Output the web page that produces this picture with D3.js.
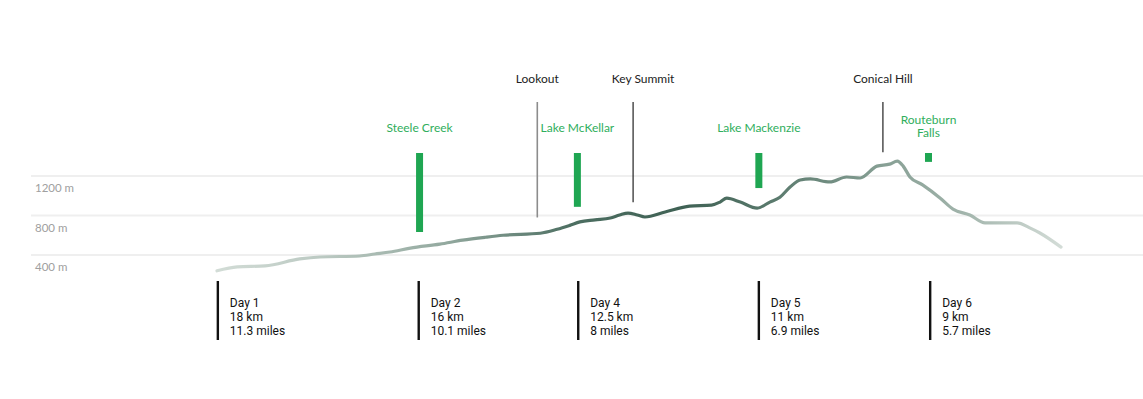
<!DOCTYPE html>
<html>
<head>
<meta charset="utf-8">
<script src="https://cdn.jsdelivr.net/npm/d3@7"></script>
<style>
  body { margin: 0; background: #fff; }
  svg { display: block; }
</style>
</head>
<body>
<div class="profile"></div>
<script>
// elevation profile, x = % along the track, y = metres
var routePct = [0, 2.4, 5.7, 9.8, 12.2, 16.9, 18.7, 20.5, 22.9, 26.4, 29.1, 31.8, 33.9, 38.3, 40.3, 41.8, 43.0, 44.8, 46.6, 47.7, 48.7, 49.8, 50.7, 53.1, 56.0, 58.6, 59.6, 60.4, 62.0, 64.0, 65.5, 66.7, 67.9, 69.1, 70.3, 72.6, 74.6, 76.2, 78.2, 79.7, 80.6, 81.3, 82.1, 83.6, 85.7, 87.2, 89.2, 91.0, 94.8, 96.3, 97.5, 100];
var elevation = [240, 280, 290, 360, 380, 390, 410, 430, 470, 510, 550, 580, 600, 620, 660, 700, 735, 755, 775, 805, 825, 805, 785, 835, 895, 905, 936, 975, 936, 875, 936, 985, 1088, 1160, 1170, 1140, 1190, 1180, 1300, 1320, 1350, 1300, 1190, 1110, 975, 865, 805, 725, 725, 675, 623, 480];

var gridValues = [400, 800, 1200];

var peakNames = ["Lookout", "Key Summit", "Conical Hill"];
var peakPct = [37.95, 49.3, 78.9];
var peakElev = [780, 935, 1440];

var waterNames = [["Steele Creek"], ["Lake McKellar"], ["Lake Mackenzie"], ["Routeburn", "Falls"]];
var waterPct = [24.0, 42.7, 64.2, 84.3];
var waterValues = [800, 545, 355, 90];

var dayLabels = ["Day 1", "Day 2", "Day 4", "Day 5", "Day 6"];
var dayKm = ["18 km", "16 km", "12.5 km", "11 km", "9 km"];
var dayMiles = ["11.3 miles", "10.1 miles", "8 miles", "6.9 miles", "5.7 miles"];
var dayPct = [0.1, 23.9, 42.8, 64.2, 84.5];

var W = 1143, H = 399;
var green = "#2fae5c";

var svg = d3.select(".profile").append("svg")
  .attr("width", W).attr("height", H);

var x = d3.scaleLinear().domain([0, 100]).range([217, 1061]);
var y = d3.scaleLinear().domain([400, 1200]).range([255, 176]);

// grid
var grid = svg.append("g");
grid.selectAll("line").data(gridValues).enter().append("line")
  .attr("x1", 31).attr("x2", W)
  .attr("y1", function(d) { return y(d); })
  .attr("y2", function(d) { return y(d); })
  .attr("stroke", "#efefef").attr("stroke-width", 2);
grid.selectAll("text").data(gridValues).enter().append("text")
  .attr("x", 35).attr("y", function(d) { return y(d) + 16; })
  .attr("font-family", "Lato").attr("font-size", 11.5)
  .attr("fill", "#a0a0a0")
  .text(function(d) { return d + " m"; });

// gradient for the trail line
var grad = svg.append("defs").append("linearGradient")
  .attr("id", "trail").attr("gradientUnits", "userSpaceOnUse")
  .attr("x1", x(0)).attr("x2", x(100)).attr("y1", 0).attr("y2", 0);
var stops = [[0, "#d2dcd6"], [0.12, "#bccac3"], [0.27, "#93a99f"], [0.42, "#4d6f62"], [0.55, "#3f6154"], [0.66, "#5a7a6d"], [0.78, "#849d92"], [0.88, "#a0b3aa"], [1, "#d3dcd7"]];
grad.selectAll("stop").data(stops).enter().append("stop")
  .attr("offset", function(d) { return d[0]; })
  .attr("stop-color", function(d) { return d[1]; });

var line = d3.line()
  .x(function(d, i) { return x(routePct[i]); })
  .y(function(d) { return y(d); })
  .curve(d3.curveMonotoneX);

svg.append("path")
  .datum(elevation)
  .attr("d", line)
  .attr("fill", "none")
  .attr("stroke", "url(#trail)")
  .attr("stroke-width", 3.2)
  .attr("stroke-linecap", "round")
  .attr("stroke-linejoin", "round");

// peaks
var peakDx = { "Key Summit": 10 };
var peaks = svg.append("g").selectAll("g").data(peakNames).enter().append("g");
peaks.append("line")
  .attr("x1", function(d, i) { return x(peakPct[i]); })
  .attr("x2", function(d, i) { return x(peakPct[i]); })
  .attr("y1", 102)
  .attr("y2", function(d, i) { return y(peakElev[i]); })
  .attr("stroke", function(d, i) { return i == 0 ? "#8c8c8c" : "#222"; })
  .attr("stroke-width", function(d, i) { return i == 0 ? 1.6 : 1.2; });
peaks.append("text")
  .attr("x", function(d, i) { return x(peakPct[i]) + (peakDx[d] || 0); })
  .attr("y", 83)
  .attr("text-anchor", "middle")
  .attr("font-family", "Lato").attr("font-size", 12)
  .attr("fill", "#222")
  .text(function(d) { return d; });

// lakes / falls
var barTop = 153;
var water = svg.append("g").selectAll("g").data(waterNames).enter().append("g");
water.append("rect")
  .attr("x", function(d, i) { return x(waterPct[i]) - 3.5; })
  .attr("y", barTop)
  .attr("width", 7)
  .attr("height", function(d, i) { return y(0) - y(waterValues[i]); })
  .attr("fill", "#1fa652");
water.each(function(d, i) {
  var t = d3.select(this).append("text")
    .attr("text-anchor", "middle")
    .attr("font-family", "Lato").attr("font-size", 12)
    .attr("fill", green);
  var base = d.length > 1 ? 124 : 132;
  d.forEach(function(s, j) {
    t.append("tspan").attr("x", x(waterPct[i])).attr("y", base + j * 13).text(s);
  });
});

// day markers
var days = svg.append("g").selectAll("g").data(dayLabels).enter().append("g")
  .attr("transform", function(d, i) { return "translate(" + x(dayPct[i]) + ",0)"; });
days.append("rect")
  .attr("x", -1.2).attr("y", 281)
  .attr("width", 2.4).attr("height", 59)
  .attr("fill", "#111");
days.each(function(d, i) {
  var t = d3.select(this).append("text")
    .attr("font-family", "Roboto").attr("font-size", 12)
    .attr("font-weight", 400)
    .attr("fill", "#111");
  [d, dayKm[i], dayMiles[i]].forEach(function(s, j) {
    t.append("tspan").attr("x", 12).attr("y", 307 + j * 14).text(s);
  });
});
</script>
</body>
</html>
